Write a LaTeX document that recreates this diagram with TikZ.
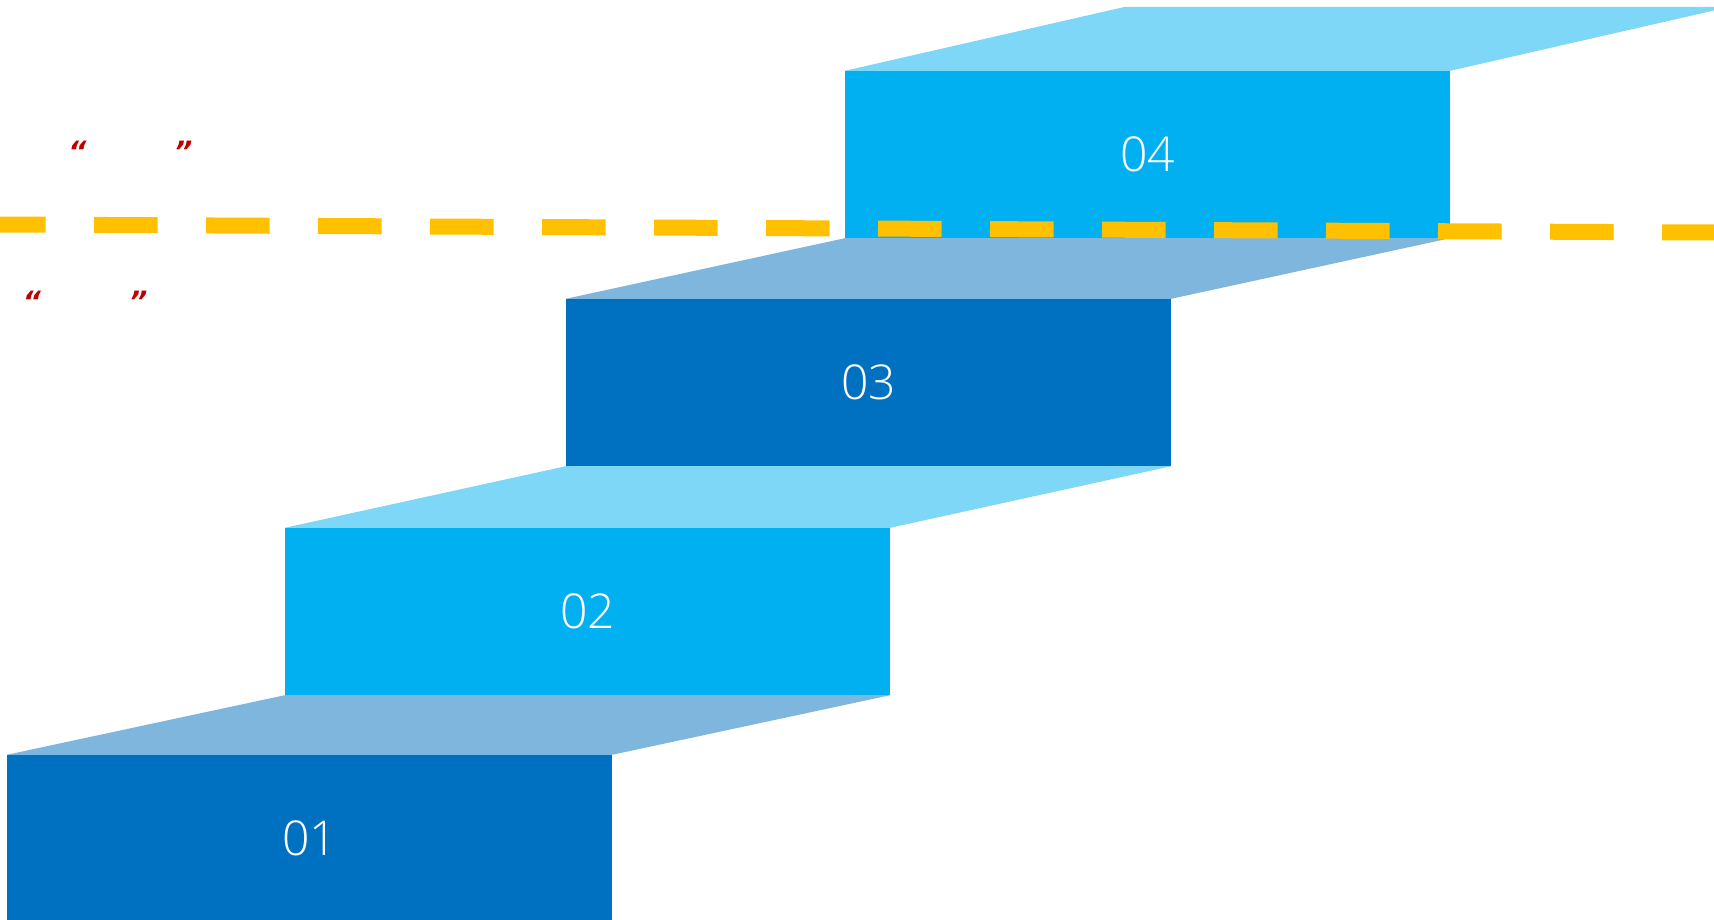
\documentclass[tikz,border=0pt]{standalone}
\usepackage{fontspec}
\usepackage{tikz}
\usetikzlibrary{calc,positioning}
\newfontfamily\numfont{Open Sans Light}
\newfontfamily\qfont{DejaVu Sans}
\definecolor{dkblue}{HTML}{0070C0}
\definecolor{ltblue}{HTML}{00B0F0}
\definecolor{dktop}{HTML}{7FB6DE}
\definecolor{lttop}{HTML}{7FD7F7}
\definecolor{gold}{HTML}{FFC000}
\definecolor{qred}{HTML}{C00000}

\begin{document}
\begin{tikzpicture}[x=1pt, y=-1pt]
\tikzstyle{stp}=[rectangle, inner sep=0pt, minimum width=605pt, minimum height=167pt,
                        text=white, font=\numfont\fontsize{48}{48}\selectfont]
\tikzstyle{lvl}=[gold, line width=16pt, dash pattern=on 63.7pt off 48.3pt, dash phase=18pt]
\tikzstyle{qt}=[qred, inner sep=0pt, font=\qfont\bfseries\itshape\fontsize{28}{28}\selectfont]
\useasboundingbox (0,0) rectangle (1714,920);
\clip (0,0) rectangle (1714,920);
\node[stp, fill=dkblue] (S1) at (309.5,838.5) {01};
\node[stp, fill=ltblue] (S2) at (587.5,611.5) {02};
\node[stp, fill=dkblue] (S3) at (868.5,382.5) {03};
\node[stp, fill=ltblue] (S4) at (1147.5,154.5) {04};
%tops of the steps
\foreach \i/\j/\c in {S1/S2/dktop,S2/S3/lttop,S3/S4/dktop}{\fill[\c] (\i.north west) -- (\i.north east) -- (\j.south east) -- (\j.south west) -- cycle;}
\fill[lttop] (S4.north west) -- (S4.north east) -- ++(280,-64) -- ++(-605,0) -- cycle;
%quotes
\node[qt] (Q1) at (77.5,151) {“};
\node[qt] (Q2) at (183.5,151) {”};
\node[qt] (Q3) at (32,301) {“};
\node[qt] (Q4) at (138.5,301) {”};
\coordinate (L) at (0,224.5);
\coordinate (R) at (1714,232.5);
\draw[lvl] (L) -- (R);
\end{tikzpicture}
\end{document}
